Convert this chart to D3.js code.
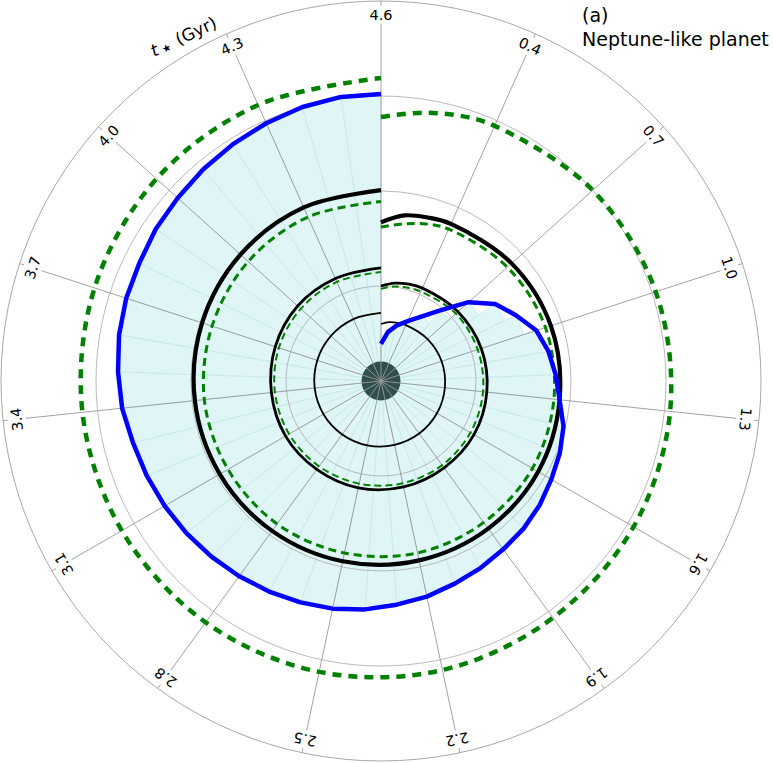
<!DOCTYPE html>
<html>
<head>
<meta charset="utf-8">
<script src="https://cdn.jsdelivr.net/npm/d3@7"></script>
<style>
  body { margin: 0; background: #fff; }
  svg { display: block; font-family: "DejaVu Sans", sans-serif; }
</style>
</head>
<body>
<div id="chart"></div>
<script>
// stellar age (Gyr), 0.1 Gyr steps - used for the shaded region and blue curve
const tFine = [0.1, 0.2, 0.3, 0.4, 0.5, 0.6, 0.7, 0.8, 0.9, 1.0,
  1.1, 1.2, 1.3, 1.4, 1.5, 1.6, 1.7, 1.8, 1.9, 2.0,
  2.1, 2.2, 2.3, 2.4, 2.5, 2.6, 2.7, 2.8, 2.9, 3.0,
  3.1, 3.2, 3.3, 3.4, 3.5, 3.6, 3.7, 3.8, 3.9, 4.0,
  4.1, 4.2, 4.3, 4.4, 4.5, 4.6];

// blue boundary (radial units)
const blueEdge = [0.39, 0.52, 0.61, 0.69, 0.80, 0.97, 1.24, 1.45, 1.58, 1.72,
  1.79, 1.84, 1.89, 1.98, 2.03, 2.07, 2.12, 2.16, 2.19, 2.23,
  2.27, 2.32, 2.36, 2.41, 2.45, 2.48, 2.51, 2.54, 2.57, 2.60,
  2.63, 2.66, 2.69, 2.74, 2.77, 2.80, 2.82, 2.83, 2.86, 2.88,
  2.91, 2.94, 2.97, 3.00, 3.02, 3.02];

// coarser age grid for the smooth boundaries
const tCoarse = [0.1, 0.2, 0.3, 0.4, 0.7, 1.0, 1.3, 1.6, 1.9, 2.2, 2.5, 2.8, 3.1, 3.4, 3.7, 4.0, 4.3, 4.6];

// black boundaries (thin, medium, thick)
const blackInner = [0.60, 0.625, 0.636, 0.644, 0.659, 0.671, 0.676, 0.68, 0.684, 0.687, 0.692, 0.695, 0.699, 0.702, 0.705, 0.709, 0.713, 0.716];
const blackMid = [1.00, 1.04, 1.06, 1.07, 1.09, 1.11, 1.12, 1.13, 1.13, 1.14, 1.15, 1.15, 1.16, 1.16, 1.17, 1.18, 1.18, 1.19];
const blackOuter = [1.67, 1.76, 1.79, 1.81, 1.85, 1.88, 1.89, 1.91, 1.92, 1.93, 1.94, 1.95, 1.96, 1.97, 1.98, 1.99, 2.00, 2.01];

// green dashed boundaries
const greenInner = [0.97, 1.005, 1.02, 1.03, 1.06, 1.07, 1.08, 1.087, 1.095, 1.10, 1.105, 1.11, 1.117, 1.123, 1.13, 1.136, 1.142, 1.147];
const greenMid = [1.62, 1.67, 1.72, 1.75, 1.79, 1.82, 1.83, 1.84, 1.84, 1.85, 1.85, 1.86, 1.86, 1.87, 1.87, 1.88, 1.89, 1.89];
const greenOuter = [2.78, 2.85, 2.91, 2.94, 3.00, 3.04, 3.06, 3.07, 3.08, 3.11, 3.13, 3.14, 3.15, 3.16, 3.17, 3.18, 3.18, 3.19];

// angular ticks
const tickValues = [0.4, 0.7, 1.0, 1.3, 1.6, 1.9, 2.2, 2.5, 2.8, 3.1, 3.4, 3.7, 4.0, 4.3, 4.6];
const radialGrid = [1, 2, 3];
const starRadius = 0.205;

const width = 773, height = 763;
const cx = 381, cy = 381;

const svg = d3.select("#chart").append("svg")
  .attr("width", width)
  .attr("height", height);

const g = svg.append("g").attr("transform", `translate(${cx},${cy})`);

const rScale = d3.scaleLinear().domain([0, 4]).range([0, 380]);
const aScale = d3.scaleLinear().domain([0.1, 4.6]).range([0, 2 * Math.PI]);

const px = (t, r) => rScale(r) * Math.sin(aScale(t));
const py = (t, r) => -rScale(r) * Math.cos(aScale(t));

// shaded region as wedges
const arc = d3.arc();
g.selectAll(".wedge")
  .data(blueEdge.slice(0, -1))
  .enter()
  .append("path")
  .attr("class", "wedge")
  .attr("d", (d, i) => arc({
    innerRadius: 0,
    outerRadius: rScale(d),
    startAngle: aScale(tFine[i]),
    endAngle: aScale(tFine[i + 1])
  }))
  .attr("fill", "#e0f5f5")
  .attr("stroke", "#c4e9ee")
  .attr("stroke-width", 0.8);

// the star
g.append("circle")
  .attr("r", rScale(starRadius))
  .attr("fill", "#2f4f4f");

// grid circles
g.selectAll(".rgrid")
  .data(radialGrid)
  .enter()
  .append("circle")
  .attr("r", (d) => rScale(d))
  .attr("fill", "none")
  .attr("stroke", "#a8a8a8")
  .attr("stroke-width", 0.8);

g.append("circle")
  .attr("r", rScale(4))
  .attr("fill", "none")
  .attr("stroke", "#a8a8a8")
  .attr("stroke-width", 1);

// spokes, small outer ticks and labels
g.selectAll(".spoke")
  .data(tickValues)
  .enter()
  .append("line")
  .attr("x1", 0).attr("y1", 0)
  .attr("x2", (d) => px(d, 3.76))
  .attr("y2", (d) => py(d, 3.76))
  .attr("stroke", "#999")
  .attr("stroke-width", 0.9);

g.selectAll(".tick")
  .data(tickValues)
  .enter()
  .append("line")
  .attr("x1", (d) => px(d, 3.95))
  .attr("y1", (d) => py(d, 3.95))
  .attr("x2", (d) => px(d, 4))
  .attr("y2", (d) => py(d, 4))
  .attr("stroke", "#999")
  .attr("stroke-width", 0.9);

g.selectAll(".tlabel")
  .data(tickValues)
  .enter()
  .append("text")
  .attr("transform", (d) => `translate(${px(d, 3.855)},${py(d, 3.855)}) rotate(${aScale(d) * 180 / Math.PI})`)
  .attr("text-anchor", "middle")
  .attr("dominant-baseline", "central")
  .attr("font-size", 14.5)
  .attr("fill", "#000")
  .text((d) => d.toFixed(1));

// boundary curves
const smooth = d3.lineRadial()
  .angle((d) => aScale(d[0]))
  .radius((d) => rScale(d[1]))
  .curve(d3.curveCatmullRom);

const pairs = (vals) => tCoarse.map((t, i) => [t, vals[i]]);

const curves = [
  { vals: greenInner, color: "green", w: 2, dash: "7,4" },
  { vals: greenMid, color: "green", w: 3, dash: "8,5" },
  { vals: greenOuter, color: "green", w: 4.5, dash: "9,7" },
  { vals: blackInner, color: "black", w: 1.8, dash: null },
  { vals: blackMid, color: "black", w: 2.8, dash: null },
  { vals: blackOuter, color: "black", w: 4.2, dash: null }
];

g.selectAll(".curve")
  .data(curves)
  .enter()
  .append("path")
  .attr("d", (d) => smooth(pairs(d.vals)))
  .attr("fill", "none")
  .attr("stroke", (d) => d.color)
  .attr("stroke-width", (d) => d.w)
  .attr("stroke-dasharray", (d) => d.dash);

const blueLine = d3.lineRadial()
  .angle((d, i) => aScale(tFine[i]))
  .radius((d) => rScale(d));

g.append("path")
  .attr("d", blueLine(blueEdge))
  .attr("fill", "none")
  .attr("stroke", "#0000ff")
  .attr("stroke-width", 4.5)
  .attr("stroke-linejoin", "round");

// axis title, t_star (Gyr)
const title = svg.append("text")
  .attr("transform", "translate(186,42) rotate(-25)")
  .attr("text-anchor", "middle")
  .attr("font-size", 17)
  .attr("fill", "#000");
title.append("tspan").attr("font-style", "italic").text("t");
title.append("tspan").attr("dx", 2).attr("dy", 4).attr("font-size", 21).text("\u22c6");
title.append("tspan").attr("dy", -4).text(" (Gyr)");

// panel label
svg.append("text")
  .attr("x", 582).attr("y", 22)
  .attr("font-size", 19)
  .text("(a)");
svg.append("text")
  .attr("x", 582).attr("y", 46)
  .attr("font-size", 19)
  .text("Neptune-like planet");
</script>
</body>
</html>
